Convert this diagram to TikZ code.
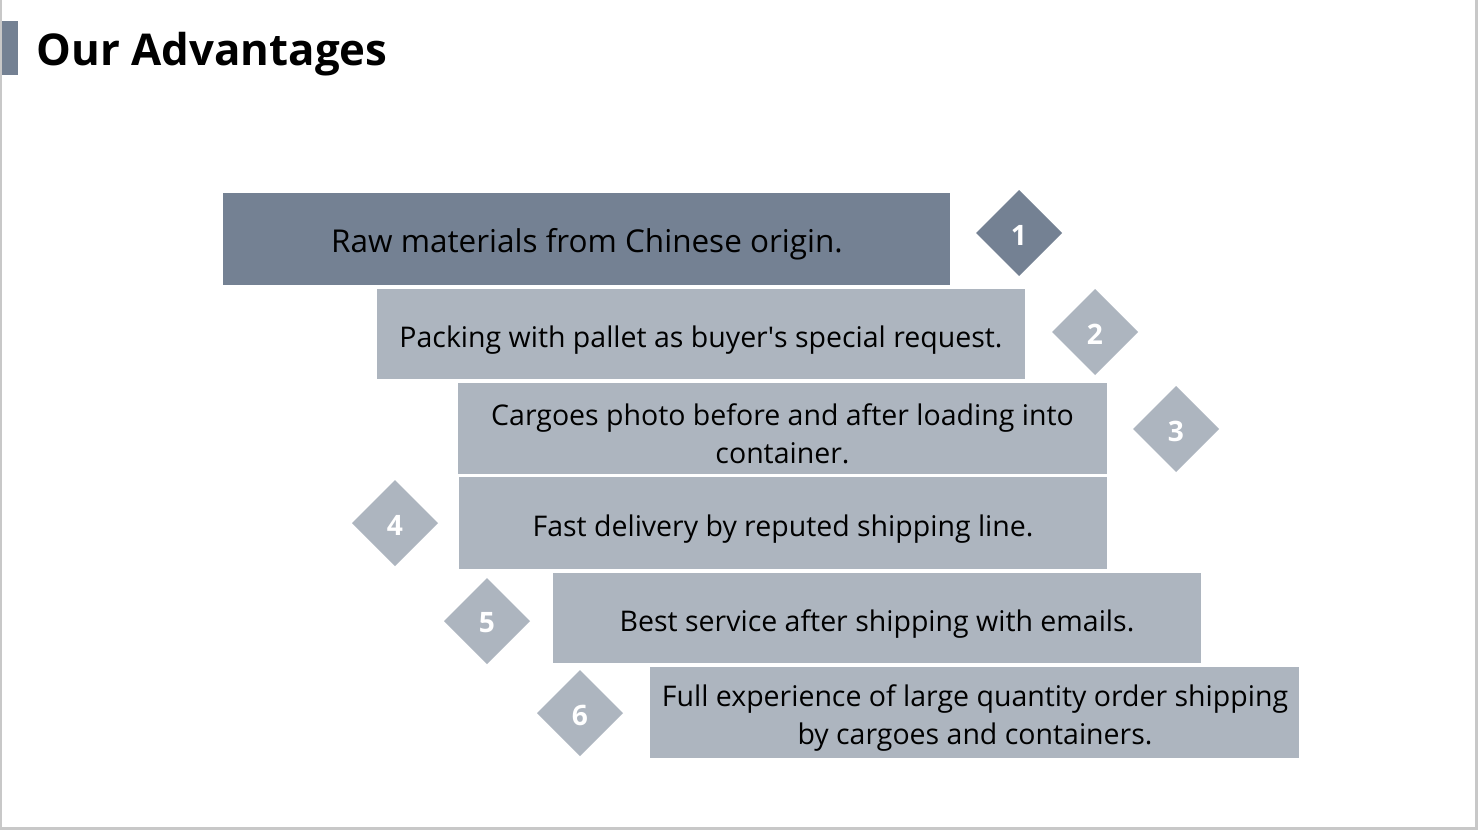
\documentclass[tikz,border=0pt]{standalone}
\usepackage{fontspec}
\setmainfont{Open Sans}
\usetikzlibrary{shapes.geometric}
\definecolor{darkbox}{RGB}{116,129,147}
\definecolor{lightbox}{RGB}{173,181,191}
\definecolor{frame}{RGB}{200,200,200}
\tikzset{
  x=0.01cm, y=-0.01cm,
  boxbase/.style={draw=none, inner sep=0pt, align=center, text=black},
  lightrect/.style={boxbase, fill=lightbox},
  darkrect/.style={boxbase, fill=darkbox},
  bodytext/.style={boxbase, font=\fontsize{8.1}{10.9}\selectfont},
  numtext/.style={text=white, inner sep=0pt, font=\bfseries\fontsize{8}{9}\selectfont},
}
\begin{document}
\begin{tikzpicture}
\useasboundingbox (0,0) rectangle (1478,830);
\fill[white] (0,0) rectangle (1478,830);
\draw[frame, line width=0.6pt] (1,-5) -- (1,828.5) -- (1476.5,828.5) -- (1476.5,-5);
\fill[darkbox] (2,21) rectangle (18,75);
\node[anchor=west, inner sep=0pt, font=\bfseries\fontsize{12.45}{15}\selectfont] (title) at (36,54) {Our Advantages};

\path[darkrect] (223,193) rectangle (950,285);
\node[boxbase, font=\fontsize{8.95}{11}\selectfont] (t1) at (587,244) {Raw materials from Chinese origin.};
\path[lightrect] (377,289) rectangle (1025,379);
\node[bodytext] (t2) at (701,340) {Packing with pallet as buyer\textquotesingle s special request.};
\path[lightrect] (458,383) rectangle (1107,474);
\node[bodytext] (t3) at (782.5,434) {Cargoes photo before and after loading into\\container.};
\path[lightrect] (459,477) rectangle (1107,569);
\node[bodytext] (t4) at (783,529) {Fast delivery by reputed shipping line.};
\path[lightrect] (553,573) rectangle (1201,663);
\node[bodytext] (t5) at (877,624) {Best service after shipping with emails.};
\path[lightrect] (650,667) rectangle (1299,758);
\node[bodytext] (t6) at (975,718) {Full experience of large quantity order shipping\\by cargoes and containers.};

\fill[darkbox] (1019,190) -- (1062,233) -- (1019,276) -- (976,233) -- cycle;
\node[numtext] (n1) at (1019,235) {1};
\fill[lightbox] (1095,289) -- (1138,332) -- (1095,375) -- (1052,332) -- cycle;
\node[numtext] (n2) at (1095,334) {2};
\fill[lightbox] (1176,386) -- (1219,429) -- (1176,472) -- (1133,429) -- cycle;
\node[numtext] (n3) at (1176,431) {3};
\fill[lightbox] (395,480) -- (438,523) -- (395,566) -- (352,523) -- cycle;
\node[numtext] (n4) at (395,525) {4};
\fill[lightbox] (487,578) -- (530,621) -- (487,664) -- (444,621) -- cycle;
\node[numtext] (n5) at (487,623) {5};
\fill[lightbox] (580,670) -- (623,713) -- (580,756) -- (537,713) -- cycle;
\node[numtext] (n6) at (580,715) {6};
\end{tikzpicture}
\end{document}
